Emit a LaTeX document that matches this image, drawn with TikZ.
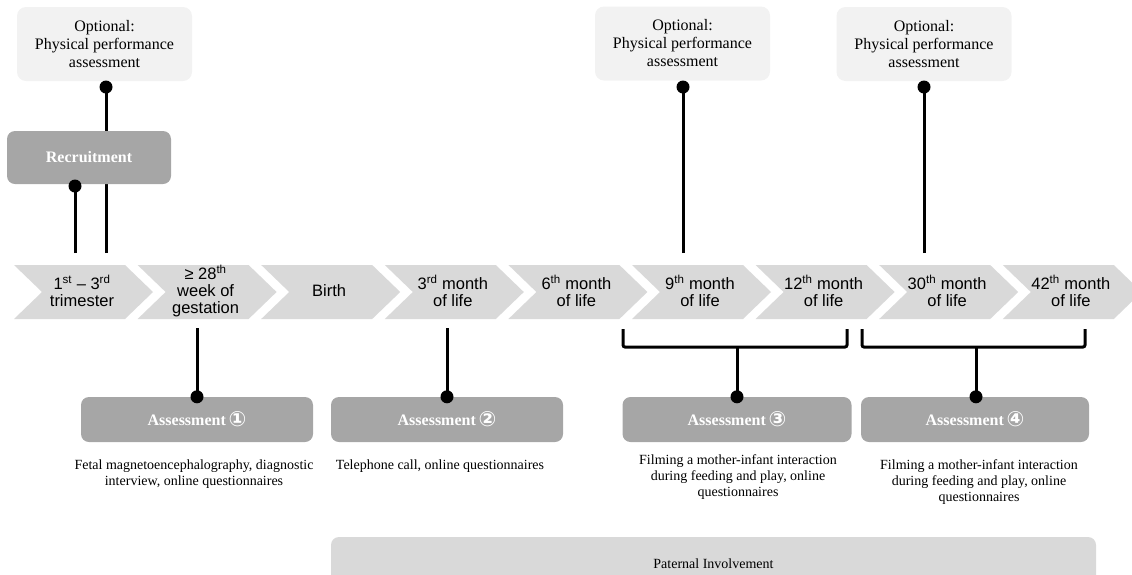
\documentclass[tikz,border=0pt]{standalone}
\usepackage{fontspec}
\setmainfont{Liberation Serif}
\newfontfamily\arialf{Liberation Sans}
\newfontfamily\dejavuf{DejaVu Sans}
\definecolor{optgray}{HTML}{F2F2F2}
\definecolor{chevgray}{HTML}{D9D9D9}
\definecolor{boxgray}{HTML}{A6A6A6}
\tikzset{
  optbox/.style={fill=optgray, rounded corners=9pt, minimum width=175pt, minimum height=74pt,
    align=center, inner sep=0pt, font=\fontsize{16}{18}\selectfont},
  darkbox/.style={fill=boxgray, rounded corners=8pt, text=white, inner sep=0pt,
    font=\bfseries\fontsize{16}{18}\selectfont},
  chevtext/.style={align=center, inner sep=0pt, font=\arialf\fontsize{16.5}{17}\selectfont},
  desc/.style={align=center, inner sep=0pt, font=\fontsize{14}{16}\selectfont},
  conn/.style={line width=3pt, black},
  brk/.style={line width=3pt, black, rounded corners=2pt},
}
\newcommand{\chev}[1]{\fill[chevgray] (#1,265) -- ++(111,0) -- ++(28,27) -- ++(-28,27) -- ++(-111,0) -- ++(28,-27) -- cycle;}
\newcommand{\circnum}[1]{{\dejavuf\fontsize{21}{21}\selectfont\raisebox{-1pt}{#1}}}
\begin{document}
\begin{tikzpicture}[x=1pt,y=-1pt]
\useasboundingbox (0,0) rectangle (1132,574);
\clip (0,0) rectangle (1132,574);

% chevrons
\foreach \i in {0,...,8} { \pgfmathsetmacro{\xo}{14+123.6*\i} \chev{\xo} }
\node[chevtext] (c1) at (82,291) {1\textsuperscript{st} – 3\textsuperscript{rd}\\trimester};
\node[chevtext] (c2) at (205.6,291) {≥ 28\textsuperscript{th}\\week of\\gestation};
\node[chevtext] (c3) at (329.2,291) {Birth};
\node[chevtext] (c4) at (452.8,291) {3\textsuperscript{rd} month\\of life};
\node[chevtext] (c5) at (576.4,291) {6\textsuperscript{th} month\\of life};
\node[chevtext] (c6) at (700,291) {9\textsuperscript{th} month\\of life};
\node[chevtext] (c7) at (823.6,291) {12\textsuperscript{th} month\\of life};
\node[chevtext] (c8) at (947.2,291) {30\textsuperscript{th} month\\of life};
\node[chevtext] (c9) at (1070.8,291) {42\textsuperscript{th} month\\of life};

% coordinates for connector ends
\coordinate (t1) at (106,253);
\coordinate (t0) at (75,253);
\coordinate (t2) at (683,253);
\coordinate (t3) at (924,253);
\coordinate (b1) at (197,328);
\coordinate (b2) at (447,328);

% optional boxes
\node[optbox] (opt1) at (104.5,44) {Optional:\\Physical performance\\assessment};
\node[optbox] (opt2) at (682.5,43.5) {Optional:\\Physical performance\\assessment};
\node[optbox] (opt3) at (924,44) {Optional:\\Physical performance\\assessment};

% connectors from optional boxes (behind recruitment box)
\draw[conn] (t1) -- (t1 |- opt1.south);
\fill (106,87) circle (6.5);
\draw[conn] (t2) -- (t2 |- opt2.south);
\fill (683,87) circle (6.5);
\draw[conn] (t3) -- (t3 |- opt3.south);
\fill (924,87) circle (6.5);

% recruitment
\node[darkbox, minimum width=164pt, minimum height=53pt] (rec) at (89,157.5) {Recruitment};
\draw[conn] (t0) -- (t0 |- rec.south);
\fill (75,186) circle (6.5);

% assessments
\node[darkbox, minimum width=232pt, minimum height=45pt] (a1) at (197,419.5) {Assessment\,\circnum{①}};
\node[darkbox, minimum width=232pt, minimum height=45pt] (a2) at (447,419.5) {Assessment\,\circnum{②}};
\node[darkbox, minimum width=229pt, minimum height=45pt] (a3) at (737,419.5) {Assessment\,\circnum{③}};
\node[darkbox, minimum width=228pt, minimum height=45pt] (a4) at (975,419.5) {Assessment\,\circnum{④}};

\draw[conn] (b1) -- (b1 |- a1.north);
\fill (b1 |- a1.north) circle (6.5);
\draw[conn] (b2) -- (b2 |- a2.north);
\fill (b2 |- a2.north) circle (6.5);

% brackets
\coordinate (k3l) at (623,329);
\coordinate (k3r) at (847,329);
\coordinate (k3m) at (737,347);
\coordinate (k4l) at (862,329);
\coordinate (k4r) at (1085,329);
\coordinate (k4m) at (976,347);
\draw[brk] (k3l) -- (k3l |- k3m) -- (k3r |- k3m) -- (k3r);
\draw[conn] (k3m) -- (k3m |- a3.north);
\fill (k3m |- a3.north) circle (6.5);
\draw[brk] (k4l) -- (k4l |- k4m) -- (k4r |- k4m) -- (k4r);
\draw[conn] (k4m) -- (k4m |- a4.north);
\fill (k4m |- a4.north) circle (6.5);

% descriptions
\node[desc] (d1) at (194,474) {Fetal magnetoencephalography, diagnostic\\interview, online questionnaires};
\node[desc] (d2) at (440,466) {Telephone call, online questionnaires};
\node[desc] (d3) at (738,477) {Filming a mother-infant interaction\\during feeding and play, online\\questionnaires};
\node[desc] (d4) at (979,482) {Filming a mother-infant interaction\\during feeding and play, online\\questionnaires};

% paternal involvement
\node[fill=chevgray, rounded corners=8pt, minimum width=765pt, minimum height=54pt, inner sep=0pt,
  font=\fontsize{14}{16}\selectfont] (pat) at (713.5,564) {Paternal Involvement};
\end{tikzpicture}
\end{document}
